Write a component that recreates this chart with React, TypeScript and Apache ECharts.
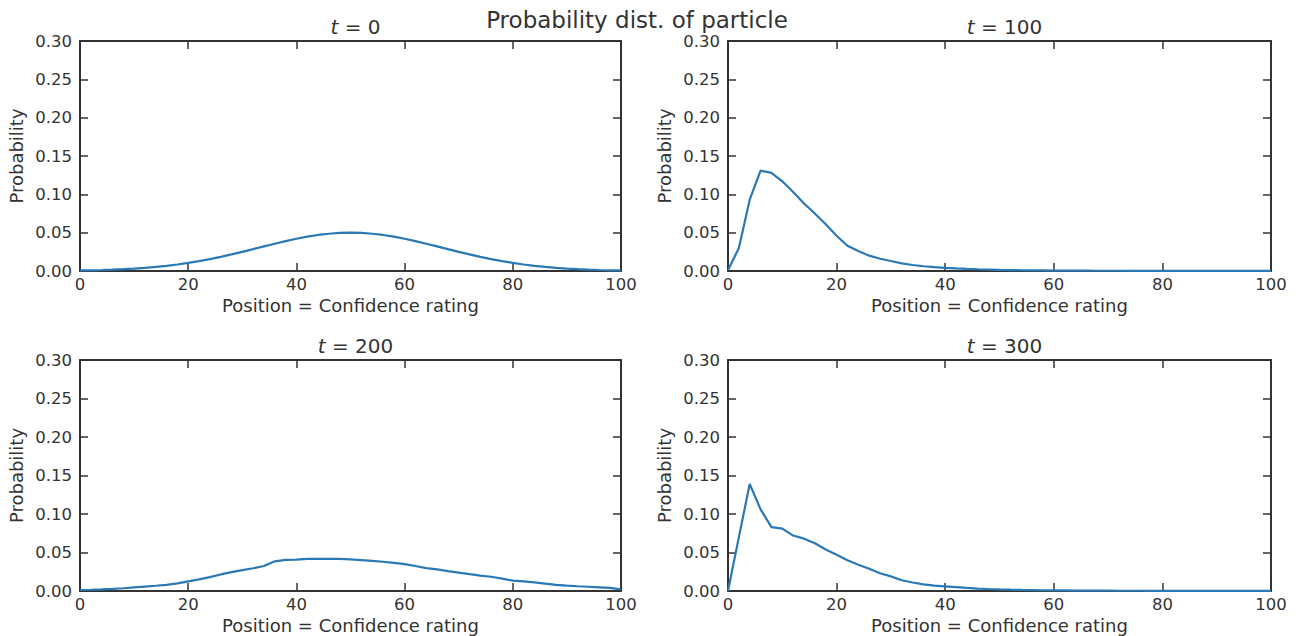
import React, { useEffect, useRef } from "react";
import * as echarts from "echarts";

const positions = [0,2,4,6,8,10,12,14,16,18,20,22,24,26,28,30,32,34,36,38,40,42,44,46,48,50,52,54,56,58,60,62,64,66,68,70,72,74,76,78,80,82,84,86,88,90,92,94,96,98,100];

const probT0 = [0.0007,0.0009,0.0013,0.0018,0.0024,0.0031,0.0041,0.0053,0.0068,0.0085,0.0105,0.0129,0.0155,0.0185,0.0216,0.0250,0.0285,0.0321,0.0356,0.0390,0.0421,0.0448,0.0470,0.0486,0.0497,0.0500,0.0497,0.0486,0.0470,0.0448,0.0421,0.0390,0.0356,0.0321,0.0285,0.0250,0.0216,0.0185,0.0155,0.0129,0.0105,0.0085,0.0068,0.0053,0.0041,0.0031,0.0024,0.0018,0.0013,0.0009,0.0007];

const probT100 = [0.001,0.030,0.093,0.131,0.128,0.117,0.103,0.088,0.075,0.061,0.046,0.033,0.026,0.020,0.016,0.013,0.010,0.0078,0.0062,0.0050,0.0041,0.0034,0.0028,0.0023,0.0019,0.0015,0.0012,0.0010,0.0008,0.0007,0.0006,0.0005,0.0004,0.0004,0.0003,0.0003,0.0003,0.0002,0.0002,0.0002,0.0002,0.0001,0.0001,0.0001,0.0001,0.0001,0.0001,0.0001,0.0001,0.0001,0.0001];

const probT200 = [0.0013,0.0016,0.0020,0.0027,0.0036,0.0048,0.0058,0.0068,0.0080,0.0100,0.0125,0.0150,0.0180,0.0215,0.0245,0.0272,0.0295,0.0325,0.0385,0.0405,0.0408,0.0418,0.0417,0.0418,0.0416,0.0410,0.0402,0.0392,0.0380,0.0365,0.0350,0.0325,0.0298,0.0280,0.0258,0.0238,0.0218,0.0200,0.0185,0.0160,0.0135,0.0125,0.0112,0.0095,0.0080,0.0070,0.0062,0.0055,0.0048,0.0040,0.0020];

const probT300 = [0,0.070,0.139,0.106,0.083,0.081,0.072,0.068,0.062,0.054,0.047,0.040,0.034,0.029,0.023,0.019,0.014,0.011,0.0087,0.0070,0.0060,0.0050,0.0040,0.0032,0.0026,0.0021,0.0017,0.0014,0.0012,0.0010,0.0008,0.0007,0.0006,0.0005,0.0004,0.0004,0.0003,0.0003,0.0003,0.0002,0.0002,0.0002,0.0002,0.0002,0.0002,0.0001,0.0001,0.0001,0.0001,0.0001,0.0001];

const timeLabels = ["0", "100", "200", "300"];
const seriesList = [probT0, probT100, probT200, probT300];

const suptitle = "Probability dist. of particle";
const xName = "Position = Confidence rating";
const yName = "Probability";

const FONT = "DejaVu Sans";
const TEXT = "#333";
const LINE = "#2a78b4";

const grids = [
  { left: 80, top: 41, width: 541, height: 230 },
  { left: 728, top: 41, width: 543, height: 230 },
  { left: 80, top: 360, width: 541, height: 231 },
  { left: 728, top: 360, width: 543, height: 231 },
];

export default function App() {
  const ref = useRef<HTMLDivElement>(null);
  useEffect(() => {
    if (!ref.current) return;
    const chart = echarts.init(ref.current, null, { renderer: "svg" });
    const xAxes: any[] = [];
    const yAxes: any[] = [];
    const series: any[] = [];
    const titles: any[] = [
      {
        text: suptitle,
        left: 632,
        top: 3,
        textAlign: "center",
        textStyle: { fontFamily: FONT, fontSize: 23, fontWeight: "normal", color: TEXT },
      },
    ];
    const axisLine = { show: true, onZero: false, lineStyle: { color: TEXT, width: 2 } };
    const tick = { show: true, inside: true, length: 8, lineStyle: { color: TEXT, width: 1.5 } };
    grids.forEach((g, i) => {
      xAxes.push({
        type: "value", gridIndex: i, position: "bottom", min: 0, max: 100, interval: 20,
        axisLine, axisTick: tick, splitLine: { show: false },
        axisLabel: { fontFamily: FONT, fontSize: 16.5, color: TEXT, margin: 5 },
        name: xName, nameLocation: "middle", nameGap: 25,
        nameTextStyle: { fontFamily: FONT, fontSize: 18, color: TEXT },
      });
      xAxes.push({
        type: "value", gridIndex: i, position: "top", min: 0, max: 100, interval: 20,
        axisLine, axisTick: tick, splitLine: { show: false }, axisLabel: { show: false },
      });
      yAxes.push({
        type: "value", gridIndex: i, position: "left", min: 0, max: 0.3, interval: 0.05,
        axisLine, axisTick: tick, splitLine: { show: false },
        axisLabel: { fontFamily: FONT, fontSize: 16.5, color: TEXT, margin: 8, formatter: (v: number) => v.toFixed(2) },
        name: yName, nameLocation: "middle", nameGap: 55, nameRotate: 90,
        nameTextStyle: { fontFamily: FONT, fontSize: 18, color: TEXT },
      });
      yAxes.push({
        type: "value", gridIndex: i, position: "right", min: 0, max: 0.3, interval: 0.05,
        axisLine, axisTick: tick, splitLine: { show: false }, axisLabel: { show: false },
      });
      series.push({
        type: "line",
        xAxisIndex: 2 * i,
        yAxisIndex: 2 * i,
        data: positions.map((p, k) => [p, seriesList[i][k]]),
        showSymbol: false,
        symbol: "none",
        lineStyle: { color: LINE, width: 2.2 },
        silent: true,
      });
      titles.push({
        text: "{it|t}{n| = " + timeLabels[i] + "}",
        left: g.left + g.width / 2,
        top: g.top - 29,
        textAlign: "center",
        textStyle: {
          fontWeight: "normal",
          rich: {
            it: { fontFamily: FONT, fontSize: 20, fontStyle: "italic", fontWeight: "normal", color: TEXT },
            n: { fontFamily: FONT, fontSize: 20, fontWeight: "normal", color: TEXT },
          },
        },
      });
    });
    chart.setOption({
      animation: false,
      backgroundColor: "#fff",
      title: titles,
      grid: grids.map((g) => ({ ...g, containLabel: false })),
      xAxis: xAxes,
      yAxis: yAxes,
      series,
    });
    return () => chart.dispose();
  }, []);
  return <div ref={ref} style={{ position: "fixed", left: 0, top: 0, width: 1303, height: 636 }} />;
}
